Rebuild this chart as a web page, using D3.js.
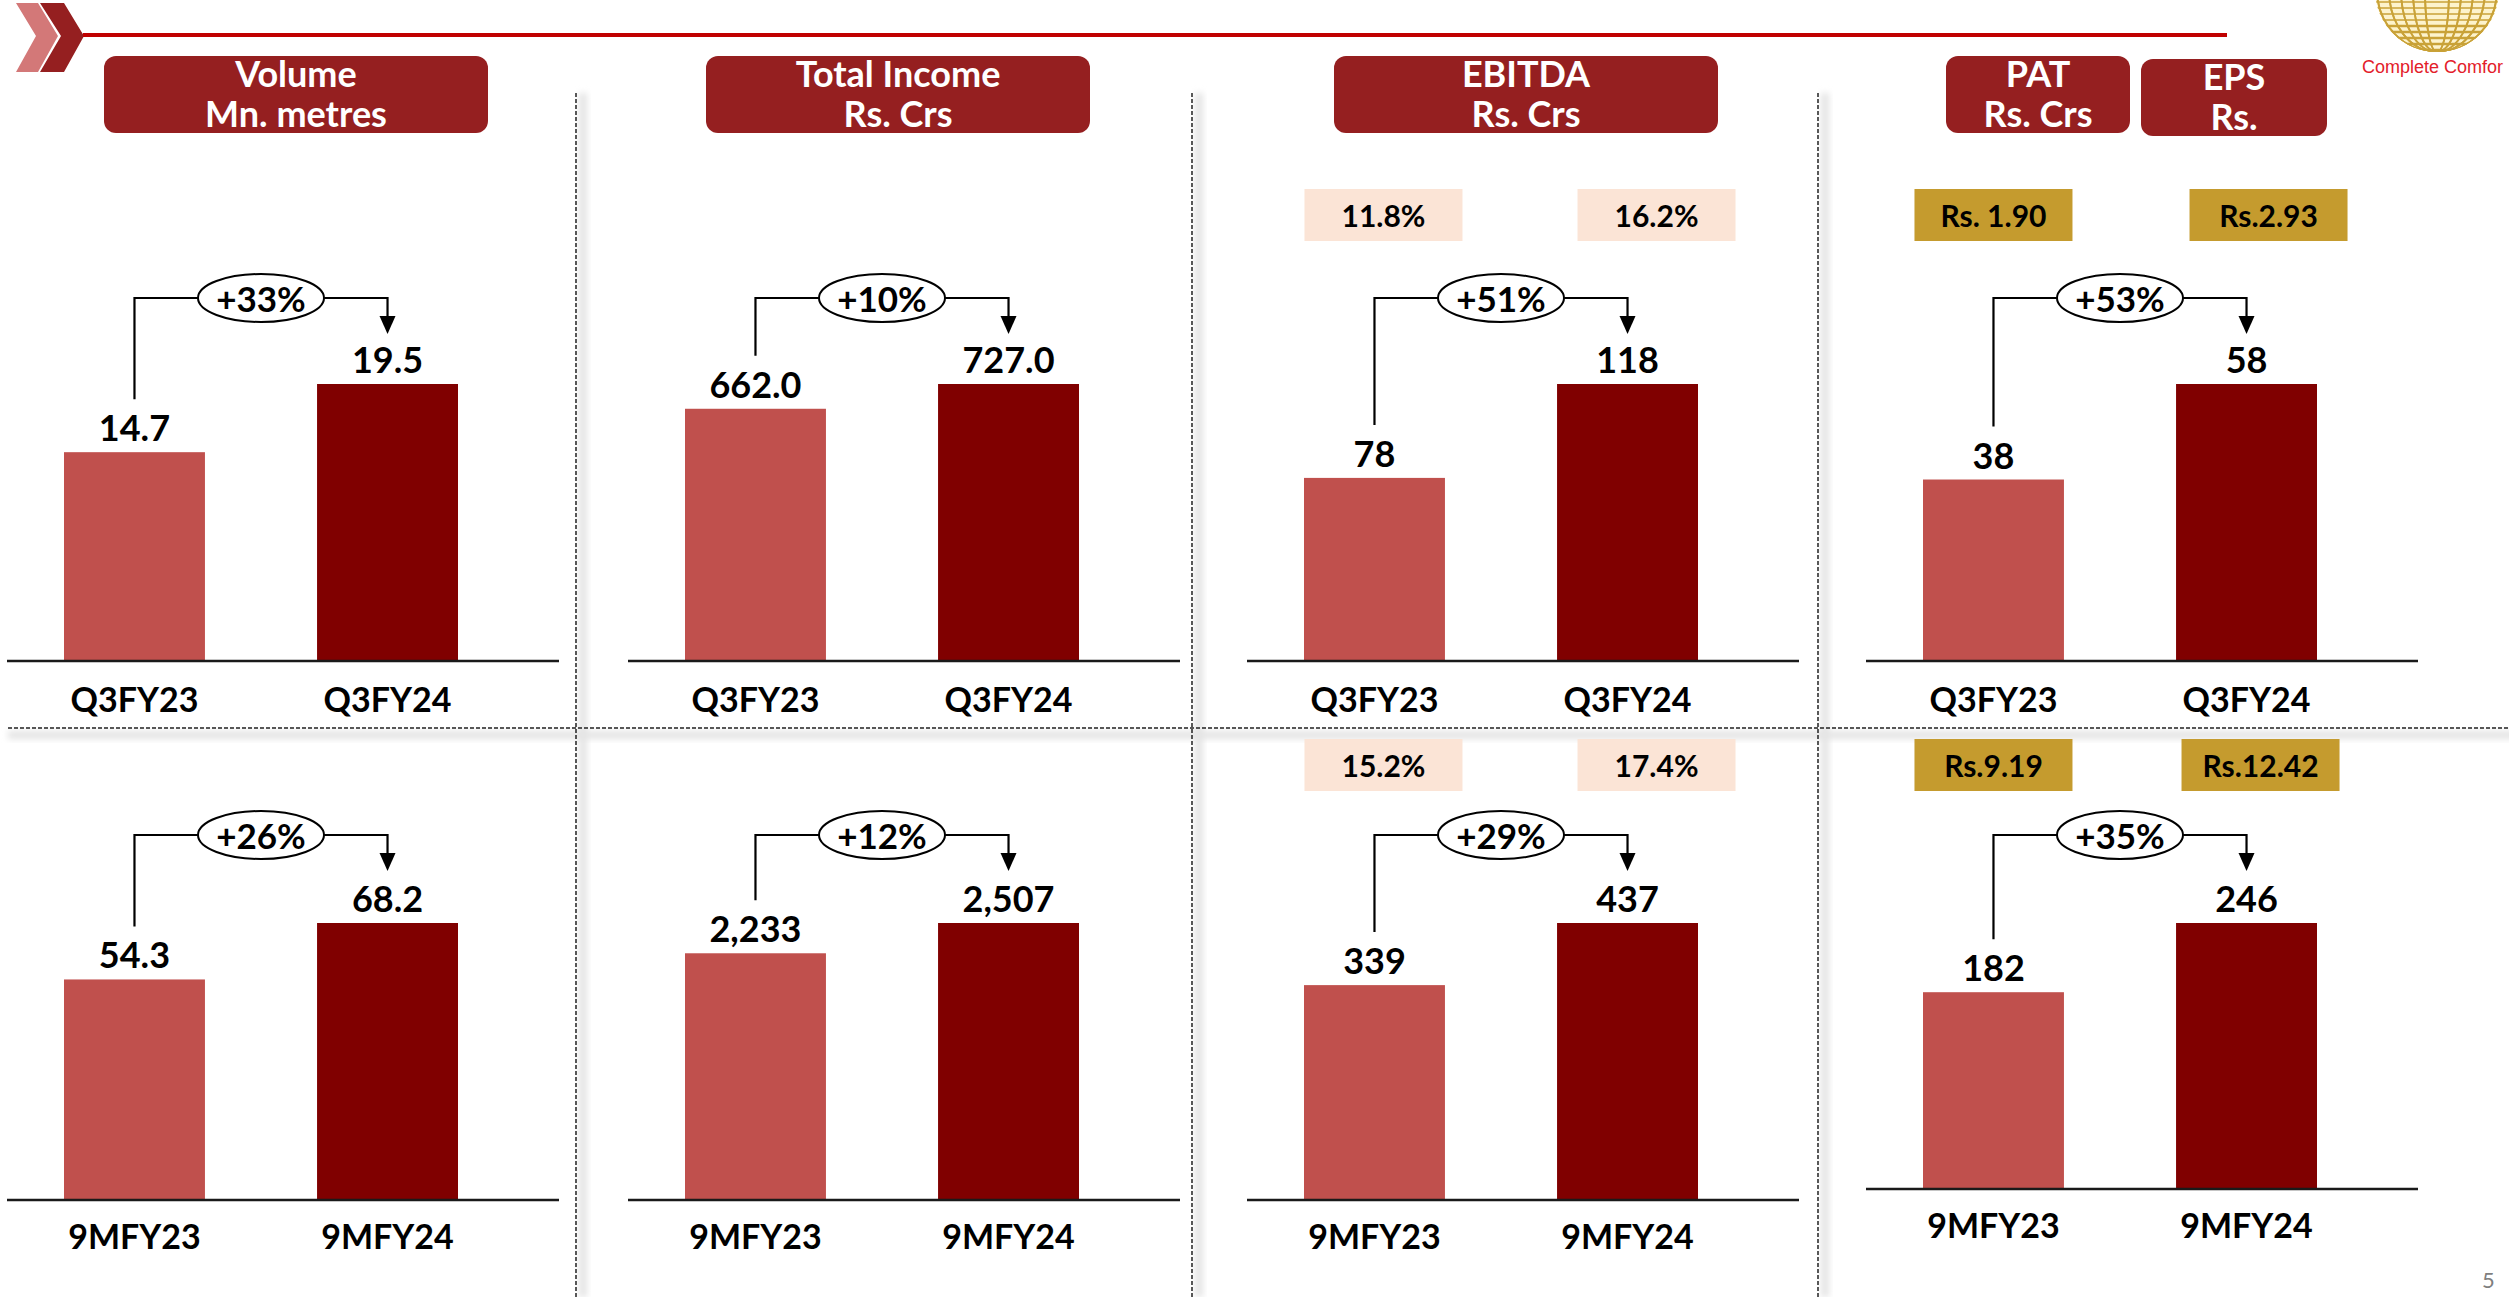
<!DOCTYPE html>
<html><head><meta charset="utf-8">
<script src="https://cdn.jsdelivr.net/npm/d3@7"></script>
<style>html,body{margin:0;padding:0;background:#fff;overflow:hidden}</style>
</head><body><svg id="c" width="2509" height="1297"></svg>
<script>
// ---------- data ----------
const metrics = ["Volume", "Total Income", "EBITDA", "PAT"];
const headerUnits = ["Mn. metres", "Rs. Crs", "Rs. Crs", "Rs. Crs"];
const categoriesQ = ["Q3FY23", "Q3FY24"];
const categories9M = ["9MFY23", "9MFY24"];
const volumeQ = [14.7, 19.5];
const volume9M = [54.3, 68.2];
const incomeQ = [662.0, 727.0];
const income9M = [2233, 2507];
const ebitdaQ = [78, 118];
const ebitda9M = [339, 437];
const patQ = [38, 58];
const pat9M = [182, 246];
const growthQ = ["+33%", "+10%", "+51%", "+53%"];
const growth9M = ["+26%", "+12%", "+29%", "+35%"];
const ebitdaMarginQ = ["11.8%", "16.2%"];
const ebitdaMargin9M = ["15.2%", "17.4%"];
const epsQ = ["Rs. 1.90", "Rs.2.93"];
const eps9M = ["Rs.9.19", "Rs.12.42"];

// ---------- layout ----------
const W = 2509, H = 1297;
const FONT = "Lato, 'Open Sans', sans-serif";
const barColors = ["#c0504d", "#800000"];
const svg = d3.select("#c");

const panelX0 = [64, 685, 1304, 1923];     // left edge of first bar in each panel
const headerX = [104, 706, 1334];
const rows = [
  { cats: categoriesQ, series: [volumeQ, incomeQ, ebitdaQ, patQ], growth: growthQ,
    fmt: [".1f", ".1f", "d", "d"], axisY: [661, 661, 661, 661], topY: 384, bracketY: 298,
    boxY: 189, catY: [698, 698, 698, 698], margins: ebitdaMarginQ, eps: epsQ },
  { cats: categories9M, series: [volume9M, income9M, ebitda9M, pat9M], growth: growth9M,
    fmt: [".1f", ",.0f", "d", "d"], axisY: [1200, 1200, 1200, 1189], topY: 923, bracketY: 835,
    boxY: 739, catY: [1235, 1235, 1235, 1224], margins: ebitdaMargin9M, eps: eps9M }
];

// ---------- defs ----------
const defs = svg.append("defs");
defs.append("filter").attr("id", "blur").attr("x", "-50%").attr("y", "-50%").attr("width", "200%").attr("height", "200%")
  .append("feGaussianBlur").attr("stdDeviation", 3);
defs.append("clipPath").attr("id", "globeClip").append("circle").attr("cx", 2437).attr("cy", -10).attr("r", 62);

// ---------- top decoration ----------
svg.append("polygon").attr("points", "16,3 38,3 58,36 38,72 16,72 36,36").attr("fill", "#d37878");
svg.append("polygon").attr("points", "40,3 64,3 84,36 64,72 40,72 61,36").attr("fill", "#951f20");
svg.append("line").attr("x1", 83).attr("x2", 2227).attr("y1", 35).attr("y2", 35)
  .attr("stroke", "#c00000").attr("stroke-width", 4);

// logo
const globe = svg.append("g").attr("clip-path", "url(#globeClip)");
globe.append("rect").attr("x", 2370).attr("y", -80).attr("width", 140).attr("height", 140).attr("fill", "#fdf3cc");
for (let y = -70; y <= 60; y += 6) {
  globe.append("line").attr("x1", 2370).attr("x2", 2510).attr("y1", y).attr("y2", y)
    .attr("stroke", "#c9a238").attr("stroke-width", y > 20 ? 2.6 : 1.6);
}
for (let k = -5; k <= 5; k++) {
  globe.append("ellipse").attr("cx", 2437).attr("cy", -10).attr("rx", Math.abs(k) * 12).attr("ry", 62)
    .attr("fill", "none").attr("stroke", "#c9a238").attr("stroke-width", 1.8);
}
svg.append("text").attr("x", 2362).attr("y", 73).text("Complete Comfor")
  .attr("font-family", "'Liberation Sans', Arial, sans-serif").attr("font-size", 18).attr("fill", "#e3202a");

// ---------- dividers ----------
const dividerX = [576, 1192, 1818];
dividerX.forEach(x => {
  svg.append("rect").attr("x", x + 3).attr("y", 93).attr("width", 8).attr("height", H - 93)
    .attr("fill", "#e4e4e4").attr("filter", "url(#blur)");
});
svg.append("rect").attr("x", 8).attr("y", 731).attr("width", W).attr("height", 8)
  .attr("fill", "#e4e4e4").attr("filter", "url(#blur)");
dividerX.forEach(x => {
  svg.append("line").attr("x1", x).attr("x2", x).attr("y1", 93).attr("y2", H)
    .attr("stroke", "#222").attr("stroke-width", 1.5).attr("stroke-dasharray", "4,2");
});
svg.append("line").attr("x1", 8).attr("x2", W).attr("y1", 728).attr("y2", 728)
  .attr("stroke", "#222").attr("stroke-width", 1.5).attr("stroke-dasharray", "4,2");

// ---------- headers ----------
function header(x, y, w, h, l1, l2) {
  svg.append("rect").attr("x", x).attr("y", y).attr("width", w).attr("height", h)
    .attr("rx", 12).attr("fill", "#951f20");
  const t = svg.append("text").attr("text-anchor", "middle").attr("fill", "#fff")
    .attr("font-family", FONT).attr("font-weight", 700).attr("font-size", 36);
  t.append("tspan").attr("x", x + w / 2).attr("y", y + 31).text(l1);
  t.append("tspan").attr("x", x + w / 2).attr("y", y + 71).text(l2);
}
metrics.forEach((m, i) => {
  if (i < 3) header(headerX[i], 56, 384, 77, m, headerUnits[i]);
});
header(1946, 56, 184, 77, metrics[3], headerUnits[3]);
header(2141, 59, 186, 77, "EPS", "Rs.");

// ---------- panels ----------
rows.forEach(row => {
  metrics.forEach((m, i) => {
    const vals = row.series[i];
    const x0 = panelX0[i];
    const axisY = row.axisY[i];
    const x = d3.scaleBand().domain(row.cats).range([x0, x0 + 394]).paddingInner(0.443).paddingOuter(0);
    const y = d3.scaleLinear().domain([0, d3.max(vals)]).range([axisY, row.topY]);
    const g = svg.append("g");
    const bw = x.bandwidth();
    const fmt = d3.format(row.fmt[i]);

    g.selectAll("rect.bar").data(vals).join("rect").attr("class", "bar")
      .attr("x", (d, j) => x(row.cats[j])).attr("y", d => y(d))
      .attr("width", bw).attr("height", d => axisY - y(d))
      .attr("fill", (d, j) => barColors[j]);

    g.append("line").attr("x1", x0 - 57).attr("x2", x0 + 495).attr("y1", axisY).attr("y2", axisY)
      .attr("stroke", "#1a1a1a").attr("stroke-width", 2.5);

    g.selectAll("text.val").data(vals).join("text").attr("class", "val")
      .attr("x", (d, j) => x(row.cats[j]) + bw / 2).attr("y", d => y(d) - 25)
      .attr("text-anchor", "middle").attr("dominant-baseline", "central")
      .attr("font-family", FONT).attr("font-weight", 700).attr("font-size", 36).attr("fill", "#000")
      .text(d => fmt(d));

    g.selectAll("text.cat").data(row.cats).join("text").attr("class", "cat")
      .attr("x", d => x(d) + bw / 2).attr("y", row.catY[i])
      .attr("text-anchor", "middle").attr("dominant-baseline", "central")
      .attr("font-family", FONT).attr("font-weight", 700).attr("font-size", 34).attr("fill", "#000")
      .text(d => d);

    // growth bracket
    const c1 = x(row.cats[0]) + bw / 2, c2 = x(row.cats[1]) + bw / 2;
    const by = row.bracketY;
    const lowY = y(vals[0]) - 25 - 28;
    g.append("path").attr("d", `M${c1},${lowY}V${by}H${c2}V${by + 20}`)
      .attr("fill", "none").attr("stroke", "#000").attr("stroke-width", 2.2);
    g.append("polygon").attr("points", `${c2 - 8},${by + 18} ${c2 + 8},${by + 18} ${c2},${by + 36}`).attr("fill", "#000");
    const mx = (c1 + c2) / 2;
    g.append("ellipse").attr("cx", mx).attr("cy", by).attr("rx", 63).attr("ry", 24)
      .attr("fill", "#fff").attr("stroke", "#000").attr("stroke-width", 2);
    g.append("text").attr("x", mx).attr("y", by).attr("text-anchor", "middle").attr("dominant-baseline", "central")
      .attr("font-family", FONT).attr("font-weight", 700).attr("font-size", 35).text(row.growth[i]);

    // margin / EPS boxes
    let labels = null, fill = null, offs = null;
    if (m === "EBITDA") { labels = row.margins; fill = "#fbe4d6"; offs = [9, 29]; }
    if (m === "PAT") { labels = row.eps; fill = "#c59b2e"; offs = [0, row === rows[0] ? 22 : 14]; }
    if (labels) {
      labels.forEach((t, j) => {
        const cx = x(row.cats[j]) + bw / 2 + offs[j];
        g.append("rect").attr("x", cx - 79).attr("y", row.boxY).attr("width", 158).attr("height", 52).attr("fill", fill);
        g.append("text").attr("x", cx).attr("y", row.boxY + 26).attr("text-anchor", "middle").attr("dominant-baseline", "central")
          .attr("font-family", FONT).attr("font-weight", 700).attr("font-size", 30).attr("fill", "#000").text(t);
      });
    }
  });
});

// page number
svg.append("text").attr("x", 2482).attr("y", 1288).text("5")
  .attr("font-family", FONT).attr("font-size", 22).attr("fill", "#7f7f7f");
</script>
</body></html>
